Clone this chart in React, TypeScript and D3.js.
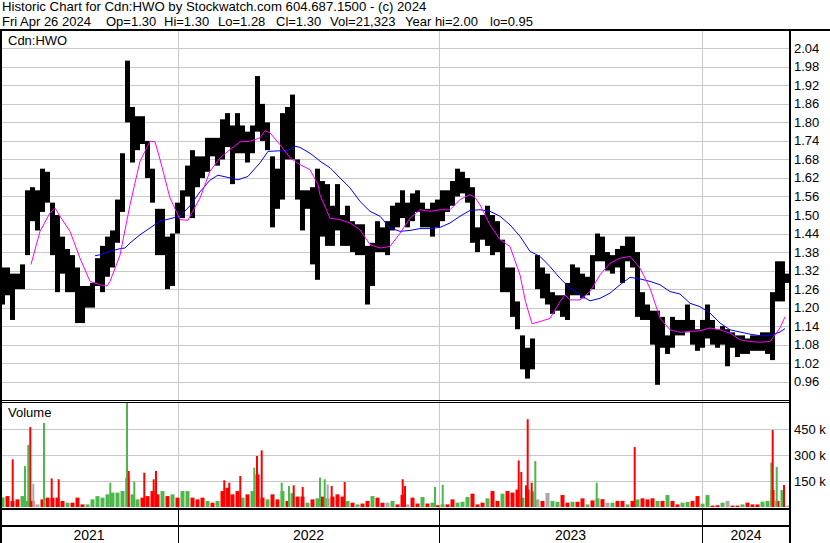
import React from 'react';
import * as d3 from 'd3';

// one entry per bar group (about 5 trading days each)
const high = [1.33,1.33,1.31,1.31,1.34,1.58,1.59,1.58,1.65,1.64,
  1.54,1.50,1.43,1.39,1.37,1.33,1.27,1.27,1.28,1.36,
  1.40,1.43,1.45,1.55,1.70,2.00,1.85,1.82,1.82,1.74,
  1.65,1.52,1.52,1.43,1.44,1.54,1.58,1.66,1.71,1.69,
  1.69,1.75,1.75,1.75,1.81,1.83,1.79,1.83,1.79,1.77,
  1.79,1.95,1.86,1.80,1.69,1.65,1.83,1.85,1.89,1.68,
  1.58,1.58,1.59,1.65,1.61,1.60,1.53,1.60,1.50,1.53,
  1.48,1.47,1.47,1.40,1.41,1.48,1.46,1.48,1.53,1.54,
  1.58,1.54,1.57,1.58,1.54,1.52,1.54,1.55,1.58,1.58,
  1.61,1.65,1.64,1.62,1.59,1.46,1.50,1.53,1.50,1.48,
  1.42,1.33,1.33,1.22,1.11,1.07,1.10,1.37,1.33,1.31,
  1.25,1.24,1.24,1.28,1.34,1.33,1.31,1.30,1.37,1.44,
  1.43,1.38,1.37,1.39,1.40,1.43,1.43,1.38,1.25,1.21,
  1.19,1.19,1.17,1.11,1.17,1.16,1.16,1.21,1.16,1.13,
  1.16,1.21,1.16,1.13,1.14,1.13,1.12,1.11,1.11,1.10,
  1.11,1.11,1.12,1.12,1.25,1.35,1.35,1.31];

const low = [1.21,1.24,1.16,1.26,1.26,1.37,1.48,1.45,1.51,1.54,
  1.37,1.25,1.31,1.25,1.25,1.15,1.15,1.20,1.20,1.27,
  1.25,1.30,1.33,1.41,1.51,1.80,1.67,1.71,1.73,1.62,
  1.54,1.37,1.37,1.26,1.27,1.44,1.49,1.56,1.49,1.59,
  1.62,1.64,1.69,1.66,1.68,1.72,1.60,1.70,1.70,1.67,
  1.70,1.77,1.74,1.71,1.46,1.52,1.55,1.68,1.68,1.55,
  1.45,1.52,1.34,1.29,1.43,1.40,1.40,1.45,1.40,1.40,
  1.38,1.37,1.37,1.21,1.27,1.38,1.38,1.37,1.45,1.46,
  1.49,1.46,1.48,1.51,1.46,1.46,1.43,1.46,1.48,1.51,
  1.53,1.56,1.57,1.54,1.41,1.38,1.42,1.40,1.37,1.38,
  1.25,1.25,1.17,1.13,1.00,0.97,1.00,1.26,1.23,1.21,
  1.18,1.19,1.17,1.16,1.24,1.24,1.23,1.24,1.26,1.35,
  1.35,1.32,1.31,1.33,1.28,1.35,1.33,1.17,1.16,1.16,
  1.08,0.95,1.07,1.05,1.07,1.11,1.11,1.12,1.08,1.06,
  1.07,1.10,1.08,1.07,1.08,1.01,1.07,1.04,1.05,1.05,
  1.06,1.06,1.06,1.05,1.03,1.22,1.22,1.28];

// moving averages: [bar group, price]
const maShort = [[6.2,1.34],[8,1.447],[10,1.507],[11,1.523],[12,1.496],[14,1.447],[16,1.36],[18,1.285],
  [20,1.274],[21.4,1.27],[22,1.285],[24,1.37],[26,1.533],[28,1.674],[30,1.739],[31,1.737],[32,1.68],
  [34,1.555],[36,1.485],[37.6,1.483],[38,1.496],[40,1.555],[42,1.642],[44,1.685],[46,1.712],[48,1.737],
  [50,1.739],[52,1.75],[53,1.773],[54,1.766],[56,1.728],[58,1.685],[60,1.663],[62,1.647],[63.6,1.598],
  [64,1.565],[66,1.49],[68,1.485],[70,1.474],[72,1.452],[74,1.404],[76,1.393],[78,1.398],[80,1.441],
  [82,1.49],[84,1.517],[86,1.512],[88,1.517],[90,1.517],[92,1.55],[94,1.566],[95,1.557],[96,1.533],
  [98,1.468],[100,1.42],[102,1.398],[104,1.306],[105.1,1.219],[106.4,1.148],[108,1.155],[110,1.165],
  [112,1.219],[113,1.241],[114,1.225],[116,1.225],[118,1.252],[120,1.306],[122,1.344],[124,1.36],
  [126,1.366],[128,1.328],[130,1.263],[132,1.166],[134,1.128],[136,1.12],[138,1.123],[140,1.125],
  [142,1.134],[144,1.128],[146,1.117],[148,1.096],[150,1.09],[152,1.088],[154,1.09],[156,1.134],[157,1.17]];

const maLong = [[19,1.368],[20,1.371],[22,1.382],[24,1.391],[25,1.393],[26,1.409],[28,1.436],[30,1.458],
  [32,1.48],[34,1.488],[36,1.496],[38,1.53],[40,1.575],[42,1.613],[43.6,1.629],[46,1.62],[47.6,1.614],
  [49.6,1.625],[52,1.669],[53.6,1.706],[56,1.708],[57.6,1.709],[59,1.723],[60,1.719],[62,1.70],[63.6,1.68],
  [64,1.674],[66,1.653],[68,1.62],[70,1.588],[72,1.544],[74,1.512],[76,1.496],[78,1.458],[80,1.447],
  [82,1.45],[84,1.456],[86,1.456],[88,1.46],[90,1.474],[92,1.496],[94,1.515],[96,1.517],[98,1.512],
  [100,1.496],[102,1.468],[104,1.431],[106,1.382],[108,1.366],[110,1.333],[112,1.295],[114,1.263],
  [116,1.241],[118,1.222],[120,1.23],[122,1.247],[124,1.274],[126,1.298],[128,1.293],[130,1.285],
  [132,1.274],[134,1.252],[136,1.244],[138,1.214],[140,1.203],[142,1.182],[144,1.15],[146,1.128],
  [148,1.121],[150,1.114],[152,1.109],[154,1.109],[156,1.121],[157,1.132]];

// volume in thousands, one per bar group; colour g=up r=down n=unchanged
const volBase = [55,63,35,44,63,35,35,15,44,54,
  54,54,35,25,25,54,15,15,44,63,
  54,73,83,83,92,170,73,44,54,63,
  92,73,92,63,73,54,92,92,54,44,
  54,35,25,35,92,111,73,92,54,73,
  92,188,54,44,73,44,92,35,80,60,
  60,25,44,50,60,50,60,73,60,35,
  25,15,20,35,63,54,25,25,35,15,
  70,15,54,20,58,20,25,10,15,15,
  44,25,30,58,77,15,25,50,92,35,
  77,92,83,100,54,100,90,44,35,81,
  35,30,69,25,30,30,50,15,38,50,
  45,25,25,35,35,15,35,44,50,44,
  50,35,35,69,35,15,25,29,35,63,
  19,69,8,10,25,35,8,8,15,25,
  15,15,31,35,98,35,98,8];
const volColor = 'grrrggrnrr' + 'rrrgrrrggg' + 'gggggrggrr' + 'rrgrgrggrr' + 'rgrgrrrrgr' +
  'grrgrrgrgr' + 'rgrgrgrrrg' + 'rgrrgrrngr' + 'rnrrgrgrgr' + 'rgggrrrgrr' +
  'grrrgrgnrn' + 'ggrrgrrgrg' + 'rngrrgrgrr' + 'rgrgrrggrr' + 'ggrrgnrrgr' + 'rrggrrgn';

// single-day spikes: [bar group, volume k, colour]
const volSpikes = [[2.34,275,'r'],[4.8,236,'g'],[5.46,358,'g'],[5.86,461,'r'],[6.46,133,'n'],[8.6,485,'g'],
  [10.14,165,'r'],[11.54,160,'r'],[21.86,140,'g'],[25.2,620,'g'],[25.54,208,'r'],[26.66,146,'g'],
  [28.66,198,'r'],[30.54,160,'r'],[31,208,'r'],[44.66,154,'r'],[45.66,140,'r'],[47.86,179,'r'],
  [50.66,227,'g'],[51.2,294,'r'],[52.14,327,'r'],[56.14,140,'g'],[57.6,121,'g'],[58.54,125,'r'],
  [60.34,115,'r'],[63.8,170,'g'],[64.74,160,'g'],[65.34,130,'n'],[66.14,121,'r'],[68.74,144,'r'],
  [80.34,160,'r'],[80.8,121,'r'],[86.8,115,'g'],[88.34,127,'g'],[103.54,269,'r'],[104.06,202,'r'],
  [105,125,'r'],[105.34,506,'r'],[106.14,140,'r'],[106.86,265,'g'],[119.14,140,'g'],[126.74,346,'r'],
  [154.06,256,'g'],[154.34,444,'r'],[155.14,231,'g'],[156.34,98,'g'],[156.6,127,'r']];

const priceTicks = ['2.04','1.98','1.92','1.86','1.80','1.74','1.68','1.62','1.56','1.50',
  '1.44','1.38','1.32','1.26','1.20','1.14','1.08','1.02','0.96'];
const volTicks = [150, 300, 450];
const years = ['2021', '2022', '2023', '2024'];
const yearBreaks = [35.6, 87.8, 140.4];

const header1 = 'Historic Chart for Cdn:HWO by Stockwatch.com 604.687.1500 - (c) 2024';
const header2 = ['Fri Apr 26 2024', 'Op=1.30', 'Hi=1.30', 'Lo=1.28', 'Cl=1.30', 'Vol=21,323', 'Year hi=2.00', 'lo=0.95'];
const header2X = [2, 106, 164, 218, 276, 330, 405, 490];

const colors: Record<string, string> = { g: '#4cb84c', r: '#ff0000', n: '#a8a8a8' };
const font = 'Arial, "Liberation Sans", sans-serif';

export default function App() {
  const n = high.length;
  const x = d3.scaleLinear().domain([0, n]).range([0, 790]);
  const y = d3.scaleLinear().domain([0.96, 2.04]).range([381.7, 48.3]);
  const yv = d3.scaleLinear().domain([0, 600]).range([507, 403]).clamp(true);

  const line = d3.line<number[]>().x(d => x(d[0])).y(d => y(d[1]));
  const edges = [0, ...yearBreaks.map(b => x(b)), 790];

  return (
    <svg width={830} height={543} style={{ position: 'absolute', left: 0, top: 0, background: '#fff' }}
      fontFamily={font}>
      <rect width={830} height={543} fill="#fff" />
      <text x={2} y={11} fontSize={13.2}>{header1}</text>
      {header2.map((s, i) => (
        <text key={s} x={header2X[i]} y={26} fontSize={13}>{s}</text>
      ))}

      {/* grids */}
      {priceTicks.map(t => (
        <line key={t} x1={1} x2={789} y1={Math.round(y(+t)) + 0.5} y2={Math.round(y(+t)) + 0.5}
          stroke="#c8c8c8" />
      ))}
      {volTicks.map(t => (
        <line key={t} x1={1} x2={789} y1={Math.round(yv(t)) + 0.5} y2={Math.round(yv(t)) + 0.5}
          stroke="#c8c8c8" />
      ))}
      {yearBreaks.map(b => (
        <line key={b} x1={Math.round(x(b)) + 0.5} x2={Math.round(x(b)) + 0.5} y1={31} y2={508}
          stroke="#c8c8c8" />
      ))}

      <text x={8} y={45} fontSize={13}>Cdn:HWO</text>

      {/* price bars */}
      {high.map((h, i) => (
        <rect key={i} x={x(i)} width={x(i + 1) - x(i)} y={y(h)} height={Math.max(1, y(low[i]) - y(h))}
          fill="#000" />
      ))}

      <path d={line(maLong as number[][]) || ''} fill="none" stroke="#0000ff" strokeWidth={1} />
      <path d={line(maShort as number[][]) || ''} fill="none" stroke="#ff00ff" strokeWidth={1} />

      {/* volume */}
      {volBase.map((v, i) => (
        <rect key={i} x={x(i) + 0.5} width={4} y={yv(v)} height={507 - yv(v)} fill={colors[volColor[i]]} />
      ))}
      {volSpikes.map(([b, v, c], i) => (
        <rect key={i} x={x(b as number)} width={2} y={yv(v as number)} height={507 - yv(v as number)}
          fill={colors[c as string]} />
      ))}
      <text x={8} y={417} fontSize={13}>Volume</text>

      {/* frame */}
      <rect x={0} y={29} width={830} height={2} fill="#000" />
      <rect x={0} y={400} width={790} height={1} fill="#000" />
      <rect x={0} y={402} width={790} height={1} fill="#000" />
      <rect x={0} y={508} width={790} height={2} fill="#000" />
      <rect x={0} y={525} width={790} height={2} fill="#000" />
      <rect x={0} y={29} width={2} height={514} fill="#000" />
      <rect x={789} y={29} width={2} height={514} fill="#000" />
      {yearBreaks.map(b => (
        <rect key={b} x={Math.round(x(b))} y={509} width={1} height={34} fill="#000" />
      ))}

      {priceTicks.map(t => (
        <text key={t} x={794} y={y(+t) + 4.5} fontSize={13}>{t}</text>
      ))}
      {volTicks.map(t => (
        <text key={t} x={794} y={yv(t) + 4.5} fontSize={13}>{t + ' k'}</text>
      ))}
      {years.map((yr, i) => (
        <text key={yr} x={(edges[i] + edges[i + 1]) / 2} y={540} fontSize={14} textAnchor="middle">{yr}</text>
      ))}
    </svg>
  );
}
